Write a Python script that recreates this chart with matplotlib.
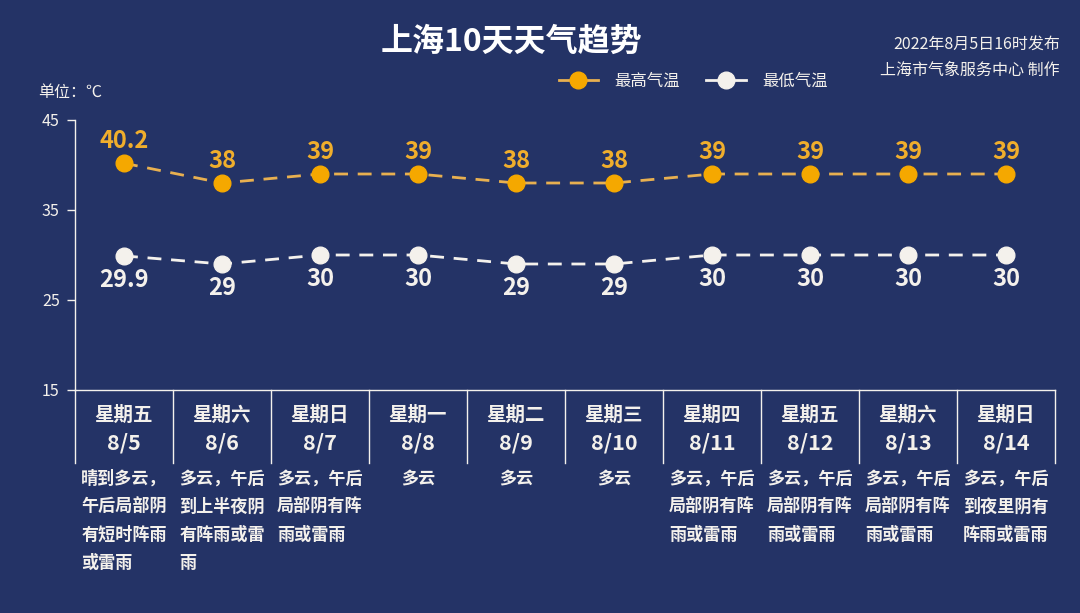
import matplotlib
matplotlib.use("Agg")
import matplotlib.pyplot as plt
from matplotlib.lines import Line2D

plt.rcParams["font.family"] = ["Noto Sans CJK SC", "DejaVu Sans"]

# data
weekdays = ["星期五", "星期六", "星期日", "星期一", "星期二", "星期三", "星期四", "星期五", "星期六", "星期日"]
dates = ["8/5", "8/6", "8/7", "8/8", "8/9", "8/10", "8/11", "8/12", "8/13", "8/14"]
high_temp = [40.2, 38, 39, 39, 38, 38, 39, 39, 39, 39]
low_temp = [29.9, 29, 30, 30, 29, 29, 30, 30, 30, 30]
high_labels = ["40.2", "38", "39", "39", "38", "38", "39", "39", "39", "39"]
low_labels = ["29.9", "29", "30", "30", "29", "29", "30", "30", "30", "30"]
weather = [
    "晴到多云，\n午后局部阴\n有短时阵雨\n或雷雨",
    "多云，午后\n到上半夜阴\n有阵雨或雷\n雨",
    "多云，午后\n局部阴有阵\n雨或雷雨",
    "多云",
    "多云",
    "多云",
    "多云，午后\n局部阴有阵\n雨或雷雨",
    "多云，午后\n局部阴有阵\n雨或雷雨",
    "多云，午后\n局部阴有阵\n雨或雷雨",
    "多云，午后\n到夜里阴有\n阵雨或雷雨",
]
y_ticks = [15, 25, 35, 45]

BG = "#243366"
ORANGE = "#f5a800"
ORANGE_LINE = "#e8b050"
ORANGE_TEXT = "#f0ae2c"
WHITE = "#f4f1ec"

W, H = 1080, 613
fig = plt.figure(figsize=(W / 100, H / 100), dpi=100, facecolor=BG)

# axes in pixel box: x 75..1055, y 120..390
ax = fig.add_axes([75 / W, (H - 390) / H, 980 / W, 270 / H])
ax.set_facecolor(BG)

x = list(range(len(dates)))
ax.plot(x, high_temp, color=ORANGE_LINE, lw=2, ls=(0, (5, 3.5)), marker="o",
        ms=12, mfc=ORANGE, mec=ORANGE, zorder=3)
ax.plot(x, low_temp, color=WHITE, lw=2, ls=(0, (5, 3.5)), marker="o",
        ms=12, mfc=WHITE, mec=WHITE, zorder=3)

for i in x:
    ax.annotate(high_labels[i], (i, high_temp[i]), xytext=(0, 16), textcoords="offset points",
                ha="center", va="center", color=ORANGE_TEXT, fontsize=17, fontweight="bold")
    ax.annotate(low_labels[i], (i, low_temp[i]), xytext=(0, -17), textcoords="offset points",
                ha="center", va="center", color=WHITE, fontsize=17, fontweight="bold")

ax.set_xlim(-0.5, len(dates) - 0.5)
ax.set_ylim(15, 45)
ax.set_yticks(y_ticks)
ax.set_xticks([])
ax.tick_params(axis="y", colors=WHITE, labelsize=11.5, length=6, width=1, pad=5)
for s in ["top", "right"]:
    ax.spines[s].set_visible(False)
for s in ["left", "bottom"]:
    ax.spines[s].set_color(WHITE)
    ax.spines[s].set_linewidth(1)

# table under the axis
tbl_bottom = -(463 - 390) / 270
for b in range(len(dates) + 1):
    ax.plot([b - 0.5, b - 0.5], [0, tbl_bottom], color=WHITE, lw=1,
            transform=ax.get_xaxis_transform(), clip_on=False)

for i in x:
    ax.text(i, -(415 - 390) / 270, weekdays[i], transform=ax.get_xaxis_transform(),
            ha="center", va="center", color=WHITE, fontsize=14, fontweight="bold")
    ax.text(i, -(443 - 390) / 270, dates[i], transform=ax.get_xaxis_transform(),
            ha="center", va="center", color=WHITE, fontsize=15.5, fontweight="bold")
    ax.text(i, -(470 - 390) / 270, weather[i], transform=ax.get_xaxis_transform(),
            ha="center", va="top", multialignment="left", color=WHITE,
            fontsize=12.3, fontweight="bold", linespacing=1.72)

# header texts
fig.text(511 / W, 1 - 42 / H, "上海10天天气趋势", ha="center", va="center",
         color="white", fontsize=23, fontweight="bold")
fig.text(1060 / W, 1 - 44 / H, "2022年8月5日16时发布", ha="right", va="center",
         color=WHITE, fontsize=11.5)
fig.text(1060 / W, 1 - 70 / H, "上海市气象服务中心 制作", ha="right", va="center",
         color=WHITE, fontsize=11.5)
fig.text(38 / W, 1 - 93 / H, "单位：℃", ha="left", va="center",
         color=WHITE, fontsize=11.5)

# legend
handles = [
    Line2D([], [], color=ORANGE_LINE, lw=2, marker="o", ms=12, mfc=ORANGE, mec=ORANGE),
    Line2D([], [], color=WHITE, lw=2, marker="o", ms=12, mfc=WHITE, mec=WHITE),
]
fig.legend(handles, ["最高气温", "最低气温"], loc="center left",
           bbox_to_anchor=(544 / W, 1 - 81 / H), ncol=2, frameon=False,
           labelcolor=WHITE, fontsize=11.8, handlelength=2.4, columnspacing=1.6,
           handletextpad=1.0)

fig.savefig("out.png", dpi=100, facecolor=BG)
